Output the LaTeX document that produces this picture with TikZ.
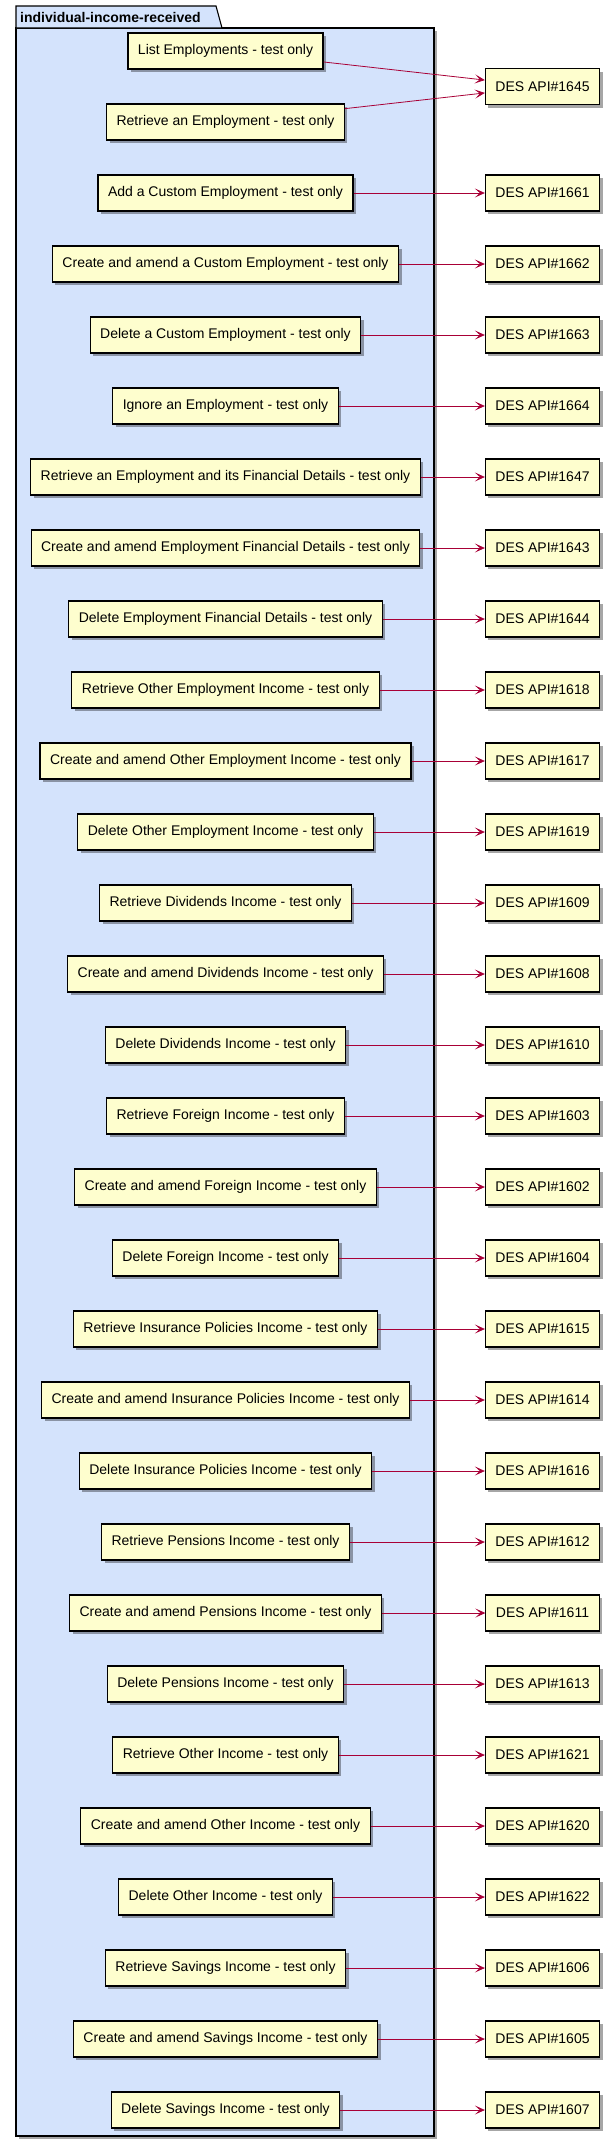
\documentclass[tikz,border=0pt]{standalone}
\usepackage{fontspec}
\setmainfont{Liberation Sans}
\usetikzlibrary{arrows.meta, positioning, shadows}
\definecolor{pkgblue}{RGB}{212,227,252}
\definecolor{boxyellow}{RGB}{254,254,206}
\definecolor{linkred}{RGB}{168,0,54}
\tikzstyle{shade}=[drop shadow={shadow xshift=3pt,shadow yshift=-3pt,opacity=.35,fill=black}]
\tikzstyle{block}=[draw,line width=1.1pt,fill=boxyellow,rectangle,minimum height=36pt,inner xsep=10pt,shade]
\tikzstyle{link}=[draw=linkred,line width=0.8pt,-{Stealth[length=10pt,width=9pt,inset=5pt]}]
\tikzstyle{every node}=[font=\fontsize{14}{16}\selectfont]

\begin{document}
\begin{tikzpicture}[x=1pt,y=-1pt,node distance=71pt]
    \useasboundingbox (0,0) rectangle (610,2142);
    % package
    \path[fill=pkgblue,draw,line width=1.1pt,shade] (16,28) rectangle (434,2136);
    \path[fill=pkgblue,draw,line width=1.1pt] (16,28) -- (16,6) -- (216,6) -- (222,28) -- cycle;
    \node[anchor=west,inner sep=0pt,font=\fontsize{14}{16}\selectfont\bfseries] (pkg) at (20,17) {individual-income-received};

    % endpoints
    \node[block] (listemp) at (225.5,51) {List Employments - test only};
    \node[block, below of=listemp] (retemp) {Retrieve an Employment - test only};
    \node[block, below of=retemp] (addcust) {Add a Custom Employment - test only};
    \node[block, below of=addcust] (amdcust) {Create and amend a Custom Employment - test only};
    \node[block, below of=amdcust] (delcust) {Delete a Custom Employment - test only};
    \node[block, below of=delcust] (ignemp) {Ignore an Employment - test only};
    \node[block, below of=ignemp] (retfin) {Retrieve an Employment and its Financial Details - test only};
    \node[block, below of=retfin] (amdfin) {Create and amend Employment Financial Details - test only};
    \node[block, below of=amdfin] (delfin) {Delete Employment Financial Details - test only};
    \node[block, below of=delfin] (retoei) {Retrieve Other Employment Income - test only};
    \node[block, below of=retoei] (amdoei) {Create and amend Other Employment Income - test only};
    \node[block, below of=amdoei] (deloei) {Delete Other Employment Income - test only};
    \node[block, below of=deloei] (retdiv) {Retrieve Dividends Income - test only};
    \node[block, below of=retdiv] (amddiv) {Create and amend Dividends Income - test only};
    \node[block, below of=amddiv] (deldiv) {Delete Dividends Income - test only};
    \node[block, below of=deldiv] (retfor) {Retrieve Foreign Income - test only};
    \node[block, below of=retfor] (amdfor) {Create and amend Foreign Income - test only};
    \node[block, below of=amdfor] (delfor) {Delete Foreign Income - test only};
    \node[block, below of=delfor] (retins) {Retrieve Insurance Policies Income - test only};
    \node[block, below of=retins] (amdins) {Create and amend Insurance Policies Income - test only};
    \node[block, below of=amdins] (delins) {Delete Insurance Policies Income - test only};
    \node[block, below of=delins] (retpen) {Retrieve Pensions Income - test only};
    \node[block, below of=retpen] (amdpen) {Create and amend Pensions Income - test only};
    \node[block, below of=amdpen] (delpen) {Delete Pensions Income - test only};
    \node[block, below of=delpen] (retoth) {Retrieve Other Income - test only};
    \node[block, below of=retoth] (amdoth) {Create and amend Other Income - test only};
    \node[block, below of=amdoth] (deloth) {Delete Other Income - test only};
    \node[block, below of=deloth] (retsav) {Retrieve Savings Income - test only};
    \node[block, below of=retsav] (amdsav) {Create and amend Savings Income - test only};
    \node[block, below of=amdsav] (delsav) {Delete Savings Income - test only};

    % DES APIs
    \node[block] (d1645) at (542.5,86.5) {DES API\#1645};
    \node[block] (d1661) at (542.5,193) {DES API\#1661};
    \node[block, below of=d1661] (d1662) {DES API\#1662};
    \node[block, below of=d1662] (d1663) {DES API\#1663};
    \node[block, below of=d1663] (d1664) {DES API\#1664};
    \node[block, below of=d1664] (d1647) {DES API\#1647};
    \node[block, below of=d1647] (d1643) {DES API\#1643};
    \node[block, below of=d1643] (d1644) {DES API\#1644};
    \node[block, below of=d1644] (d1618) {DES API\#1618};
    \node[block, below of=d1618] (d1617) {DES API\#1617};
    \node[block, below of=d1617] (d1619) {DES API\#1619};
    \node[block, below of=d1619] (d1609) {DES API\#1609};
    \node[block, below of=d1609] (d1608) {DES API\#1608};
    \node[block, below of=d1608] (d1610) {DES API\#1610};
    \node[block, below of=d1610] (d1603) {DES API\#1603};
    \node[block, below of=d1603] (d1602) {DES API\#1602};
    \node[block, below of=d1602] (d1604) {DES API\#1604};
    \node[block, below of=d1604] (d1615) {DES API\#1615};
    \node[block, below of=d1615] (d1614) {DES API\#1614};
    \node[block, below of=d1614] (d1616) {DES API\#1616};
    \node[block, below of=d1616] (d1612) {DES API\#1612};
    \node[block, below of=d1612] (d1611) {DES API\#1611};
    \node[block, below of=d1611] (d1613) {DES API\#1613};
    \node[block, below of=d1613] (d1621) {DES API\#1621};
    \node[block, below of=d1621] (d1620) {DES API\#1620};
    \node[block, below of=d1620] (d1622) {DES API\#1622};
    \node[block, below of=d1622] (d1606) {DES API\#1606};
    \node[block, below of=d1606] (d1605) {DES API\#1605};
    \node[block, below of=d1605] (d1607) {DES API\#1607};

    % links
    \draw[link] (listemp) -- (d1645);
    \draw[link] (retemp) -- (d1645);
    \draw[link] (addcust) -- (d1661);
    \draw[link] (amdcust) -- (d1662);
    \draw[link] (delcust) -- (d1663);
    \draw[link] (ignemp) -- (d1664);
    \draw[link] (retfin) -- (d1647);
    \draw[link] (amdfin) -- (d1643);
    \draw[link] (delfin) -- (d1644);
    \draw[link] (retoei) -- (d1618);
    \draw[link] (amdoei) -- (d1617);
    \draw[link] (deloei) -- (d1619);
    \draw[link] (retdiv) -- (d1609);
    \draw[link] (amddiv) -- (d1608);
    \draw[link] (deldiv) -- (d1610);
    \draw[link] (retfor) -- (d1603);
    \draw[link] (amdfor) -- (d1602);
    \draw[link] (delfor) -- (d1604);
    \draw[link] (retins) -- (d1615);
    \draw[link] (amdins) -- (d1614);
    \draw[link] (delins) -- (d1616);
    \draw[link] (retpen) -- (d1612);
    \draw[link] (amdpen) -- (d1611);
    \draw[link] (delpen) -- (d1613);
    \draw[link] (retoth) -- (d1621);
    \draw[link] (amdoth) -- (d1620);
    \draw[link] (deloth) -- (d1622);
    \draw[link] (retsav) -- (d1606);
    \draw[link] (amdsav) -- (d1605);
    \draw[link] (delsav) -- (d1607);
\end{tikzpicture}
\end{document}
